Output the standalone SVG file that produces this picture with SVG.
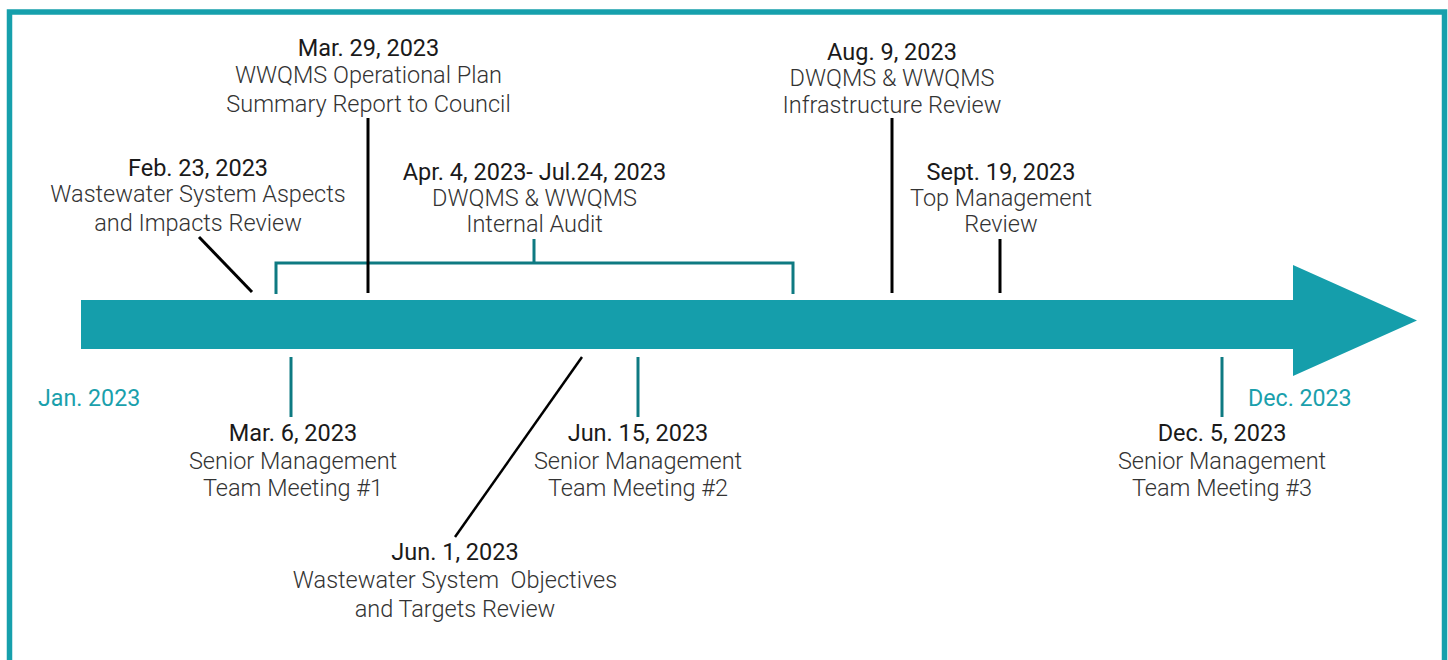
<svg xmlns="http://www.w3.org/2000/svg" width="1448" height="660" viewBox="0 0 1448 660">
<style>
.d{font-family:Roboto,"Liberation Sans",sans-serif;font-size:23.5px;font-weight:400;fill:#1a1a1a;text-anchor:middle}
.t{font-family:Roboto,"Liberation Sans",sans-serif;font-size:23.5px;font-weight:300;fill:#333333;text-anchor:middle}
.m{font-family:Roboto,"Liberation Sans",sans-serif;font-size:23.2px;font-weight:400;fill:#1aa0ac}
.blk{stroke:#000;stroke-width:3;fill:none}
.tl{stroke:#0e7a82;stroke-width:3;fill:none}
</style>
<rect x="0" y="0" width="1448" height="660" fill="#fff"/>
<rect x="9.5" y="12" width="1435" height="700" fill="none" stroke="#16a0ac" stroke-width="5.5"/>
<g id="timeline-arrow">
<polygon points="81,300 1293,300 1293,265 1417,320.5 1293,376 1293,349 81,349" fill="#159eab"/>
<text class="m" x="38" y="406">Jan. 2023</text>
<text class="m" x="1248" y="406">Dec. 2023</text>
</g>
<g id="connectors">
<line class="blk" x1="199" y1="237" x2="252" y2="292"/>
<path class="tl" d="M276,294 V263 H793 V294 M534,263 V239"/>
<line class="blk" x1="368" y1="118" x2="368" y2="293"/>
<line class="blk" x1="892" y1="118" x2="892" y2="293"/>
<line class="blk" x1="1000" y1="239" x2="1000" y2="293"/>
<line class="tl" x1="291" y1="357" x2="291" y2="417"/>
<line class="tl" x1="638" y1="357" x2="638" y2="417"/>
<line class="tl" x1="1222" y1="357" x2="1222" y2="417"/>
<line x1="582" y1="357" x2="455" y2="537" stroke="#000" stroke-width="2.5"/>
</g>
<g id="feb23">
<text class="d" x="198" y="176">Feb. 23, 2023</text>
<text class="t" x="198" y="202">Wastewater System Aspects</text>
<text class="t" x="198" y="231">and Impacts Review</text>
</g>
<g id="mar29">
<text class="d" x="368.5" y="56">Mar. 29, 2023</text>
<text class="t" x="368.5" y="83">WWQMS Operational Plan</text>
<text class="t" x="368.5" y="112">Summary Report to Council</text>
</g>
<g id="apr4">
<text class="d" x="534.5" y="180">Apr. 4, 2023- Jul.24, 2023</text>
<text class="t" x="534.5" y="206">DWQMS &amp; WWQMS</text>
<text class="t" x="534.5" y="232">Internal Audit</text>
</g>
<g id="aug9">
<text class="d" x="892" y="60">Aug. 9, 2023</text>
<text class="t" x="892" y="86">DWQMS &amp; WWQMS</text>
<text class="t" x="892" y="113">Infrastructure Review</text>
</g>
<g id="sept19">
<text class="d" x="1001" y="180">Sept. 19, 2023</text>
<text class="t" x="1001" y="206">Top Management</text>
<text class="t" x="1001" y="232">Review</text>
</g>
<g id="mar6">
<text class="d" x="293" y="441">Mar. 6, 2023</text>
<text class="t" x="293" y="469">Senior Management</text>
<text class="t" x="293" y="496">Team Meeting #1</text>
</g>
<g id="jun15">
<text class="d" x="638" y="441">Jun. 15, 2023</text>
<text class="t" x="638" y="469">Senior Management</text>
<text class="t" x="638" y="496">Team Meeting #2</text>
</g>
<g id="jun1">
<text class="d" x="455" y="560">Jun. 1, 2023</text>
<text class="t" x="455" y="588" xml:space="preserve">Wastewater System  Objectives</text>
<text class="t" x="455" y="617">and Targets Review</text>
</g>
<g id="dec5">
<text class="d" x="1222" y="441">Dec. 5, 2023</text>
<text class="t" x="1222" y="469">Senior Management</text>
<text class="t" x="1222" y="496">Team Meeting #3</text>
</g>
</svg>
